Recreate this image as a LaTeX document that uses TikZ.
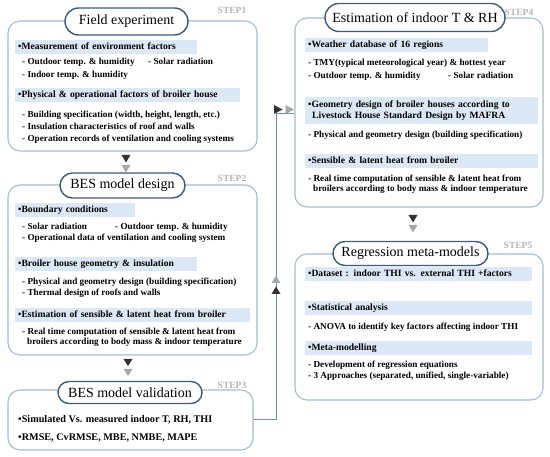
\documentclass[tikz,border=0pt]{standalone}
\usepackage{fontspec}
\setmainfont{Liberation Serif}
\usetikzlibrary{calc,shapes.misc}
\definecolor{boxline}{HTML}{A7BBD0}
\definecolor{pillline}{HTML}{3F5C75}
\definecolor{barfill}{HTML}{DCE8F6}
\definecolor{connline}{HTML}{6E8AA3}
\definecolor{darktri}{HTML}{333333}
\definecolor{graytri}{HTML}{A8A8A8}
\definecolor{steptxt}{HTML}{B4B4B4}
\tikzset{
 stepbox/.style={draw=boxline, line width=1.1pt, rounded corners=12pt, fill=white, inner sep=0pt},
 pill/.style={rounded rectangle, draw=pillline, line width=1.4pt, fill=white, inner sep=0pt, font=\fontsize{14}{15}\selectfont},
 bar/.style={fill=barfill, anchor=west, inner xsep=3pt, inner ysep=0pt, minimum height=14pt, align=left, font=\bfseries\fontsize{9.6}{11}\selectfont, execute at begin node=\strut},
 item/.style={anchor=west, inner sep=0pt, align=left, font=\bfseries\fontsize{9.2}{10.5}\selectfont, execute at begin node=\strut},
 bigitem/.style={anchor=west, inner sep=0pt, align=left, font=\bfseries\fontsize{10.2}{11}\selectfont, execute at begin node=\strut},
 steplbl/.style={text=steptxt, inner sep=0pt, font=\bfseries\fontsize{9.5}{10}\selectfont},
 conn/.style={draw=connline, line width=1pt},
}
\begin{document}
\begin{tikzpicture}[x=1pt,y=-1pt]
\useasboundingbox (0,0) rectangle (550,457);
% boxes
\node[stepbox, minimum width=249pt, minimum height=130pt] (b1) at (132.5,86) {};
\node[stepbox, minimum width=249pt, minimum height=170pt] (b2) at (132.5,270) {};
\node[stepbox, minimum width=245pt, minimum height=60pt] (b3) at (130.5,420) {};
\node[stepbox, minimum width=248pt, minimum height=189pt] (b4) at (419,112.5) {};
\node[stepbox, minimum width=248pt, minimum height=146pt] (b5) at (419,327) {};
% pills
\node[pill, minimum width=123pt, minimum height=27pt] (p1) at (126.5,21.5) {Field experiment};
\node[pill, minimum width=125pt, minimum height=25pt] (p2) at (122.5,185.5) {BES model design};
\node[pill, minimum width=144pt, minimum height=22pt] (p3) at (130,392.5) {BES model validation};
\node[pill, minimum width=180pt, minimum height=28pt] (p4) at (415,17.5) {Estimation of indoor T \& RH};
\node[pill, minimum width=155pt, minimum height=24pt] (p5) at (410.5,253.5) {Regression meta-models};
% step labels
\node[steplbl] (s1) at (232,10) {STEP1};
\node[steplbl] (s2) at (232,178) {STEP2};
\node[steplbl] (s3) at (232,385) {STEP3};
\node[steplbl] (s4) at (519,12) {STEP4};
\node[steplbl] (s5) at (518,245) {STEP5};
% box 1
\node[bar, text width=176pt] (h11) at (15,47) {•Measurement of environment factors};
\node[item] (i111) at (22,62) {- Outdoor temp. \& humidity};
\node[item] (i112) at (148,62) {- Solar radiation};
\node[item] (i113) at (22,75) {- Indoor temp. \& humidity};
\node[bar, text width=219pt] (h12) at (15,95.5) {•Physical \& operational factors of broiler house};
\node[item] (i121) at (22,115) {- Building specification (width, height, length, etc.)};
\node[item] (i122) at (22,127) {- Insulation characteristics of roof and walls};
\node[item] (i123) at (22,139) {- Operation records of ventilation and cooling systems};
% box 2
\node[bar, text width=114pt] (h21) at (15,210) {•Boundary conditions};
\node[item] (i211) at (22,227) {- Solar radiation};
\node[item] (i212) at (115,227) {- Outdoor temp. \& humidity};
\node[item] (i213) at (22,238) {- Operational data of ventilation and cooling system};
\node[bar, text width=176pt] (h22) at (15,264) {•Broiler house geometry \& insulation};
\node[item] (i221) at (22,282) {- Physical and geometry design (building specification)};
\node[item] (i222) at (22,293) {- Thermal design of roofs and walls};
\node[bar, text width=229pt] (h23) at (15,315.5) {•Estimation of sensible \& latent heat from broiler};
\node[item] (i231) at (22,338) {- Real time computation of sensible \& latent heat from\\\hspace*{5pt}broilers according to body mass \& indoor temperature\strut};
% box 3
\node[bigitem] (i31) at (18,420) {•Simulated Vs. measured indoor T, RH, THI};
\node[bigitem] (i32) at (18,438) {•RMSE, CvRMSE, MBE, NMBE, MAPE};
% box 4
\node[bar, text width=177pt] (h41) at (305,45) {•Weather database of 16 regions};
\node[item] (i411) at (308,63) {- TMY(typical meteorological year) \& hottest year};
\node[item] (i412) at (308,76) {- Outdoor temp. \& humidity};
\node[item] (i413) at (448,76) {- Solar radiation};
\node[bar, text width=227pt, minimum height=27pt] (h42) at (305,110.5) {•Geometry design of broiler houses according to\\\hspace*{4pt}Livestock House Standard Design by MAFRA\strut};
\node[item] (i421) at (308,135) {- Physical and geometry design (building specification)};
\node[bar, text width=227pt] (h43) at (305,161.5) {•Sensible \& latent heat from broiler};
\node[item] (i431) at (308,185) {- Real time computation of sensible \& latent heat from\\\hspace*{5pt}broilers according to body mass \& indoor temperature\strut};
% box 5
\node[bar, text width=221pt] (h51) at (305,274) {•Dataset : indoor THI vs. external THI +factors};
\node[bar, text width=221pt] (h52) at (305,308.5) {•Statistical analysis};
\node[item] (i521) at (308,327) {- ANOVA to identify key factors affecting indoor THI};
\node[bar, text width=221pt] (h53) at (305,348.5) {•Meta-modelling};
\node[item] (i531) at (308,365) {- Development of regression equations};
\node[item] (i532) at (308,376) {- 3 Approaches (separated, unified, single-variable)};
% down markers
\fill[darktri] (121.5,155) -- (130.5,155) -- (126,162.5) -- cycle;
\fill[graytri] (121.5,165) -- (130.5,165) -- (126,172.5) -- cycle;
\fill[darktri] (123.5,359) -- (132.5,359) -- (128,366) -- cycle;
\fill[graytri] (123.5,369) -- (132.5,369) -- (128,376) -- cycle;
\fill[darktri] (408.5,215) -- (417.5,215) -- (413,222.5) -- cycle;
\fill[graytri] (408.5,225) -- (417.5,225) -- (413,232.5) -- cycle;
% feedback connector
\coordinate (turn) at (276,114);
\draw[conn] (b3.east) -| (turn) -- (turn -| b4.west);
\fill[graytri] (271.5,283) -- (280.5,283) -- (276,275.5) -- cycle;
\fill[darktri] (271.5,294) -- (280.5,294) -- (276,286.5) -- cycle;
\fill[darktri] (274,105) -- (274,114) -- (282.5,109.5) -- cycle;
\fill[graytri] (285.5,105) -- (285.5,114) -- (294,109.5) -- cycle;
\end{tikzpicture}
\end{document}
